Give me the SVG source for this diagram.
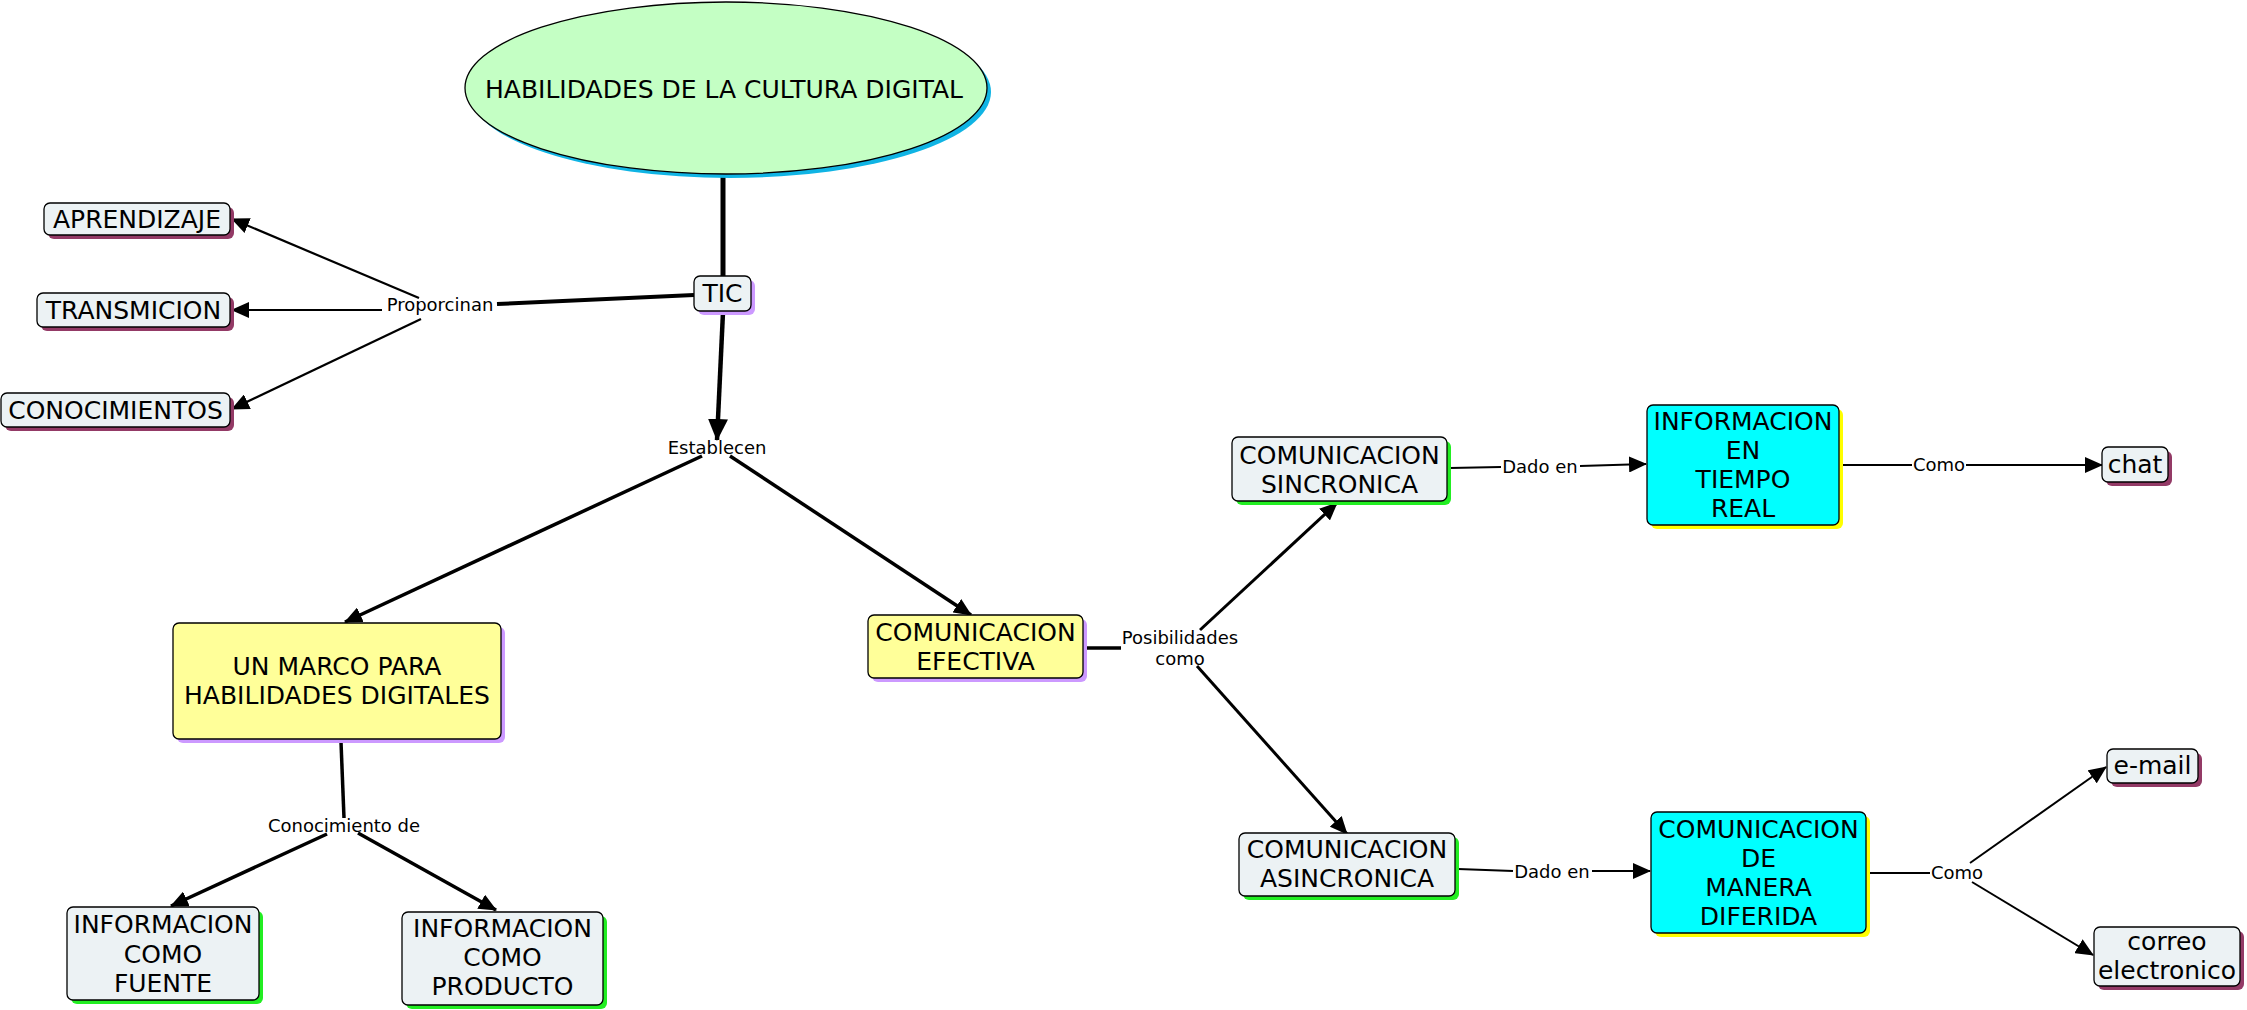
<svg xmlns="http://www.w3.org/2000/svg" width="2247" height="1010" viewBox="0 0 2247 1010">
<style>
.node rect.b{stroke:#000;stroke-width:1.3}
.gray{fill:#ECF2F4}
.yel{fill:#FFFF99}
.cyan{fill:#00FFFF}
.sh-m{fill:#933A66}
.sh-l{fill:#CC99FF}
.sh-g{fill:#22EE22}
.sh-y{fill:#FFFF00}
text{font-family:"DejaVu Sans",Verdana,sans-serif;fill:#000}
.nt{font-size:25px;text-anchor:middle}
.lt{font-size:18px;text-anchor:middle}
.c line{stroke:#000;fill:none}
</style>
<defs>
<marker id="a" markerUnits="userSpaceOnUse" markerWidth="18" markerHeight="16" refX="17" refY="8" orient="auto" viewBox="0 0 18 16">
<path d="M0,0 L18,8 L0,16 z" fill="#000"/>
</marker>
<marker id="ab" markerUnits="userSpaceOnUse" markerWidth="22" markerHeight="20" refX="21" refY="10" orient="auto" viewBox="0 0 22 20">
<path d="M0,0 L22,10 L0,20 z" fill="#000"/>
</marker>
</defs>

<g class="c" id="connectors">
<line x1="723" y1="176" x2="723" y2="276" stroke-width="5"/>
<line x1="694" y1="295" x2="497" y2="304" stroke-width="4"/>
<line x1="419" y1="298" x2="232" y2="219" stroke-width="2.2" marker-end="url(#a)"/>
<line x1="382" y1="310" x2="232" y2="310" stroke-width="2.2" marker-end="url(#a)"/>
<line x1="421" y1="319" x2="232" y2="409" stroke-width="2.2" marker-end="url(#a)"/>
<line x1="723" y1="312" x2="717" y2="440" stroke-width="4.5" marker-end="url(#ab)"/>
<line x1="702" y1="456" x2="345" y2="622" stroke-width="3.5" marker-end="url(#a)"/>
<line x1="730" y1="456" x2="971" y2="615" stroke-width="3.5" marker-end="url(#a)"/>
<line x1="341" y1="742" x2="344" y2="818" stroke-width="3.5"/>
<line x1="327" y1="834" x2="171" y2="906" stroke-width="3.5" marker-end="url(#a)"/>
<line x1="358" y1="833" x2="496" y2="910" stroke-width="3.5" marker-end="url(#a)"/>
<line x1="1086" y1="648" x2="1121" y2="648" stroke-width="3.5"/>
<line x1="1200" y1="630" x2="1337" y2="503" stroke-width="3" marker-end="url(#a)"/>
<line x1="1197" y1="666" x2="1347" y2="834" stroke-width="3" marker-end="url(#a)"/>
<line x1="1450" y1="468" x2="1501" y2="467" stroke-width="2"/>
<line x1="1580" y1="466" x2="1646" y2="464" stroke-width="2" marker-end="url(#a)"/>
<line x1="1843" y1="465" x2="1912" y2="465" stroke-width="2"/>
<line x1="1966" y1="465" x2="2102" y2="465" stroke-width="2" marker-end="url(#a)"/>
<line x1="1458" y1="869" x2="1513" y2="871" stroke-width="2"/>
<line x1="1592" y1="871" x2="1650" y2="871" stroke-width="2" marker-end="url(#a)"/>
<line x1="1868" y1="873" x2="1930" y2="873" stroke-width="2"/>
<line x1="1970" y1="863" x2="2106" y2="767" stroke-width="2" marker-end="url(#a)"/>
<line x1="1972" y1="882" x2="2093" y2="955" stroke-width="2" marker-end="url(#a)"/>
<text class="lt" x="440" y="311">Proporcinan</text>
<text class="lt" x="717" y="454">Establecen</text>
<text class="lt" x="344" y="832">Conocimiento de</text>
<text class="lt" x="1180" y="644">Posibilidades</text>
<text class="lt" x="1180" y="665">como</text>
<text class="lt" x="1540" y="473">Dado en</text>
<text class="lt" x="1552" y="878">Dado en</text>
<text class="lt" x="1939" y="471">Como</text>
<text class="lt" x="1957" y="879">Como</text>
</g>

<g class="node" id="n-title">
<ellipse cx="730" cy="92" rx="261" ry="86" fill="#10B4E4"/>
<ellipse cx="726" cy="88" rx="261" ry="86" fill="#C4FFC4" stroke="#000" stroke-width="1.3"/>
<text class="nt" x="724" y="98">HABILIDADES DE LA CULTURA DIGITAL</text>
</g>

<g class="node" id="n-aprendizaje">
<rect class="sh-m" x="48" y="207" width="186" height="32" rx="6"/>
<rect class="b gray" x="44" y="203" width="186" height="32" rx="6"/>
<text class="nt" x="137" y="228">APRENDIZAJE</text>
</g>
<g class="node" id="n-transmicion">
<rect class="sh-m" x="41" y="297" width="193" height="34" rx="6"/>
<rect class="b gray" x="37" y="293" width="193" height="34" rx="6"/>
<text class="nt" x="133.5" y="319">TRANSMICION</text>
</g>
<g class="node" id="n-conocimientos">
<rect class="sh-m" x="5" y="397" width="229" height="34" rx="6"/>
<rect class="b gray" x="1" y="393" width="229" height="34" rx="6"/>
<text class="nt" x="115.5" y="419">CONOCIMIENTOS</text>
</g>
<g class="node" id="n-tic">
<rect class="sh-l" x="698" y="280" width="57" height="35" rx="6"/>
<rect class="b gray" x="694" y="276" width="57" height="35" rx="6"/>
<text class="nt" x="722.5" y="302">TIC</text>
</g>
<g class="node" id="n-marco">
<rect class="sh-l" x="177" y="627" width="328" height="116" rx="6"/>
<rect class="b yel" x="173" y="623" width="328" height="116" rx="6"/>
<text class="nt" x="337" y="675">UN MARCO PARA</text>
<text class="nt" x="337" y="704">HABILIDADES DIGITALES</text>
</g>
<g class="node" id="n-efectiva">
<rect class="sh-l" x="872" y="619" width="215" height="63" rx="6"/>
<rect class="b yel" x="868" y="615" width="215" height="63" rx="6"/>
<text class="nt" x="975.5" y="641">COMUNICACION</text>
<text class="nt" x="975.5" y="670">EFECTIVA</text>
</g>
<g class="node" id="n-fuente">
<rect class="sh-g" x="71" y="911" width="192" height="93" rx="6"/>
<rect class="b gray" x="67" y="907" width="192" height="93" rx="6"/>
<text class="nt" x="163" y="933">INFORMACION</text>
<text class="nt" x="163" y="963">COMO</text>
<text class="nt" x="163" y="992">FUENTE</text>
</g>
<g class="node" id="n-producto">
<rect class="sh-g" x="406" y="916" width="201" height="93" rx="6"/>
<rect class="b gray" x="402" y="912" width="201" height="93" rx="6"/>
<text class="nt" x="502.5" y="937">INFORMACION</text>
<text class="nt" x="502.5" y="966">COMO</text>
<text class="nt" x="502.5" y="995">PRODUCTO</text>
</g>
<g class="node" id="n-sincronica">
<rect class="sh-g" x="1236" y="441" width="215" height="64" rx="6"/>
<rect class="b gray" x="1232" y="437" width="215" height="64" rx="6"/>
<text class="nt" x="1339.5" y="464">COMUNICACION</text>
<text class="nt" x="1339.5" y="493">SINCRONICA</text>
</g>
<g class="node" id="n-asincronica">
<rect class="sh-g" x="1243" y="837" width="216" height="63" rx="6"/>
<rect class="b gray" x="1239" y="833" width="216" height="63" rx="6"/>
<text class="nt" x="1347" y="858">COMUNICACION</text>
<text class="nt" x="1347" y="887">ASINCRONICA</text>
</g>
<g class="node" id="n-tiemporeal">
<rect class="sh-y" x="1651" y="409" width="192" height="120" rx="6"/>
<rect class="b cyan" x="1647" y="405" width="192" height="120" rx="6"/>
<text class="nt" x="1743" y="430">INFORMACION</text>
<text class="nt" x="1743" y="459">EN</text>
<text class="nt" x="1743" y="488">TIEMPO</text>
<text class="nt" x="1743" y="517">REAL</text>
</g>
<g class="node" id="n-diferida">
<rect class="sh-y" x="1655" y="816" width="215" height="121" rx="6"/>
<rect class="b cyan" x="1651" y="812" width="215" height="121" rx="6"/>
<text class="nt" x="1758.5" y="838">COMUNICACION</text>
<text class="nt" x="1758.5" y="867">DE</text>
<text class="nt" x="1758.5" y="896">MANERA</text>
<text class="nt" x="1758.5" y="925">DIFERIDA</text>
</g>
<g class="node" id="n-chat">
<rect class="sh-m" x="2106" y="451" width="66" height="35" rx="6"/>
<rect class="b gray" x="2102" y="447" width="66" height="35" rx="6"/>
<text class="nt" x="2135" y="473">chat</text>
</g>
<g class="node" id="n-email">
<rect class="sh-m" x="2111" y="753" width="91" height="34" rx="6"/>
<rect class="b gray" x="2107" y="749" width="91" height="34" rx="6"/>
<text class="nt" x="2152.5" y="774">e-mail</text>
</g>
<g class="node" id="n-correo">
<rect class="sh-m" x="2098" y="931" width="146" height="59" rx="6"/>
<rect class="b gray" x="2094" y="927" width="146" height="59" rx="6"/>
<text class="nt" x="2167" y="950">correo</text>
<text class="nt" x="2167" y="979">electronico</text>
</g>
</svg>
